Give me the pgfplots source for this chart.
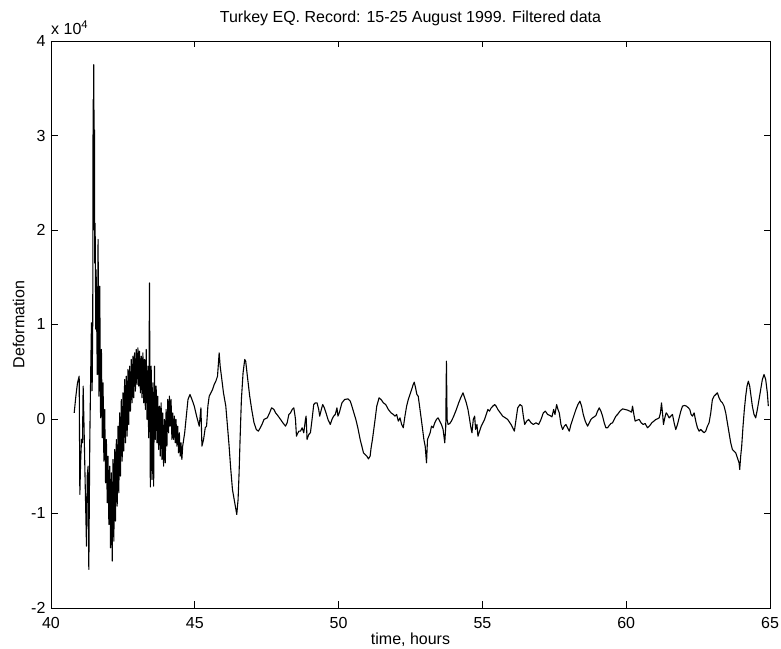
\documentclass[border=0pt]{standalone}
\usepackage{fontspec}
\setmainfont{Liberation Sans}
\usepackage{pgfplots}
\pgfplotsset{compat=1.18}

\begin{document}
\fontsize{16}{19}\selectfont
\begin{tikzpicture}
\begin{axis}[
  scale only axis, width=719pt, height=567pt,
  xmin=40, xmax=65, ymin=-2, ymax=4,
  xtick={40,45,...,65}, ytick={-2,-1,...,4},
  tick align=inside, major tick length=6.5pt,
  xtick pos=both, ytick pos=both, xticklabel pos=lower, yticklabel pos=left,
  /pgf/number format/assume math mode=true,
  tick label style={font=\fontsize{16}{19}\selectfont},
  xticklabel style={yshift=-3.5pt},
  axis line style={line width=0.7pt},
  every tick/.style={black, line width=0.7pt},
  title={Turkey EQ. Record: 15-25 August 1999. Filtered data},
  title style={at={(axis description cs:0.5,1)}, anchor=base, yshift=12.4pt},
  xlabel={time, hours},
  xlabel style={at={(axis description cs:0.5,0)}, anchor=base, yshift=-36.5pt},
  ylabel={Deformation},
  ylabel style={at={(axis description cs:-0.045,0.5)}, anchor=center},
  extra description/.code={\node[anchor=base west, inner sep=0pt] at (0,1) [yshift=6pt] {x 10\textsuperscript{4}};},
]
% deformation in units of 1e4
\addplot[black, line width=1.1pt, line join=round, mark=none] coordinates {
(40.807,0.065) (40.865,0.242) (40.92,0.38) (40.980,0.453) (41.003,-0.798) (41.03,-0.45)
(41.061,-0.217) (41.095,-0.252) (41.118,0.347) (41.15,-0.10) (41.176,-0.499) (41.234,-1.346)
(41.26,-0.60) (41.291,-0.499) (41.315,-1.592) (41.349,-0.217) (41.384,0.559) (41.407,1.018)
(41.430,0.30) (41.452,1.05) (41.464,3.38) (41.475,2.00) (41.487,3.75) (41.499,2.85)
(41.511,3.06) (41.522,1.65) (41.534,2.07) (41.557,0.95) (41.569,1.58)
(41.580,1.265) (41.609,0.471) (41.637,1.900) (41.666,0.242) (41.695,1.406) (41.724,0.012)
(41.753,0.736) (41.782,-0.199) (41.810,0.383) (41.839,-0.446) (41.868,0.101) (41.897,-0.675)
(41.926,-0.217) (41.955,-0.887) (41.983,-0.393) (42.012,-1.116) (42.041,-0.499) (42.070,-1.363)
(42.099,-0.570) (42.128,-1.504) (42.156,-0.428) (42.185,-1.293) (42.214,-0.323) (42.243,-1.081)
(42.272,-0.217) (42.301,-0.922) (42.329,-0.076) (42.358,-0.781) (42.387,0.065) (42.416,-0.605)
(42.445,0.206) (42.474,-0.446) (42.502,0.277) (42.531,-0.340) (42.560,0.418) (42.589,-0.252)
(42.618,0.453) (42.647,-0.182) (42.675,0.524) (42.704,-0.058) (42.733,0.559) (42.762,0.083)
(42.791,0.630) (42.820,0.171) (42.849,0.665) (42.877,0.224) (42.906,0.700) (42.935,0.295)
(42.964,0.736) (42.993,0.365) (43.022,0.753) (43.050,0.348) (43.079,0.718) (43.108,0.277)
(43.137,0.665) (43.166,0.224) (43.195,0.700) (43.223,0.171) (43.252,0.630) (43.281,0.101)
(43.310,0.736) (43.339,-0.005) (43.368,0.559) (43.396,-0.199) (43.425,1.44) (43.454,-0.72)
(43.483,0.559) (43.512,-0.640) (43.541,0.383) (43.569,-0.711) (43.598,0.559)
(43.627,-0.217) (43.656,0.348) (43.685,-0.252) (43.713,0.242) (43.742,-0.323) (43.771,0.136)
(43.800,-0.393) (43.829,0.171) (43.858,-0.428) (43.886,0.065) (43.915,-0.499) (43.944,-0.005)
(43.973,-0.464) (44.002,0.101) (44.031,-0.287) (44.060,0.206) (44.088,-0.146) (44.117,0.242)
(44.146,-0.076) (44.175,0.206) (44.204,-0.217) (44.233,0.065) (44.262,-0.217) (44.290,0.030)
(44.319,-0.252) (44.348,-0.005) (44.377,-0.287) (44.406,-0.076) (44.435,-0.358) (44.463,-0.146)
(44.492,-0.393) (44.521,-0.252) (44.550,-0.428) (44.579,-0.287)
(44.648,-0.146) (44.694,-0.005) (44.763,0.206) (44.832,0.259) (44.902,0.206) (44.982,0.136)
(45.063,0.030) (45.155,-0.076) (45.213,0.118) (45.248,-0.287) (45.305,-0.217) (45.363,-0.093)
(45.409,-0.076) (45.455,0.136) (45.501,0.242) (45.559,0.277) (45.617,0.312) (45.674,0.365)
(45.732,0.400) (45.790,0.453) (45.847,0.700) (45.882,0.559) (45.940,0.418) (45.997,0.277)
(46.078,0.136) (46.136,-0.076) (46.193,-0.287) (46.251,-0.534) (46.309,-0.746) (46.389,-0.887)
(46.459,-1.010) (46.505,-0.852) (46.540,-0.570) (46.574,-0.217) (46.620,0.206) (46.678,0.488)
(46.736,0.630) (46.770,0.612) (46.828,0.453) (46.909,0.242) (46.978,0.101) (47.059,-0.040)
(47.139,-0.111) (47.209,-0.129) (47.278,-0.093) (47.347,-0.050) (47.405,-0.005)
(47.520,0.012) (47.601,0.065) (47.670,0.118) (47.751,0.101) (47.809,0.065) (47.901,0.030)
(47.982,-0.005) (48.062,-0.040) (48.155,-0.076) (48.212,-0.040) (48.270,0.048) (48.328,0.065)
(48.385,0.101) (48.443,0.118) (48.478,0.048) (48.501,-0.005) (48.535,-0.182) (48.558,-0.164)
(48.616,-0.129) (48.674,-0.129) (48.731,-0.093) (48.789,-0.146) (48.847,-0.005) (48.870,0.030)
(48.904,-0.217) (48.962,-0.164) (49.020,-0.146) (49.077,-0.005) (49.135,0.153) (49.193,0.171)
(49.250,0.171) (49.308,0.101) (49.343,0.030) (49.400,0.101) (49.447,0.153) (49.504,0.118)
(49.562,0.065) (49.631,-0.005) (49.712,-0.058) (49.770,-0.005) (49.827,0.030) (49.885,0.048)
(49.943,0.118) (49.977,0.030) (50.023,0.065) (50.116,0.171) (50.208,0.206) (50.323,0.213)
(50.404,0.189) (50.462,0.136) (50.531,0.065) (50.600,-0.005) (50.669,-0.093) (50.750,-0.217)
(50.808,-0.287) (50.865,-0.358) (50.923,-0.376) (50.981,-0.393) (51.038,-0.422) (51.096,-0.393)
(51.130,-0.305) (51.177,-0.217) (51.223,-0.111) (51.269,-0.005) (51.327,0.136) (51.407,0.224)
(51.477,0.206) (51.557,0.171) (51.638,0.153) (51.730,0.101) (51.823,0.065) (51.903,0.048)
(51.961,0.030) (52.019,0.048) (52.076,-0.023) (52.134,0.012) (52.192,-0.058) (52.249,-0.093)
(52.307,0.030) (52.365,0.136) (52.422,0.206) (52.480,0.259) (52.538,0.312) (52.595,0.365)
(52.630,0.390) (52.676,0.330) (52.722,0.259) (52.768,0.242) (52.815,0.136) (52.861,0.030)
(52.907,-0.076) (52.965,-0.217) (53.010,-0.287) (53.057,-0.464) (53.091,-0.217) (53.137,-0.182)
(53.183,-0.146) (53.230,-0.076) (53.287,-0.093) (53.345,-0.040) (53.403,-0.005) (53.460,0.012)
(53.518,-0.023) (53.576,-0.058) (53.633,-0.111) (53.691,-0.252) (53.726,-0.076) (53.749,0.612)
(53.772,-0.005) (53.806,-0.058) (53.864,-0.048) (53.922,-0.023) (54.003,0.030) (54.095,0.101)
(54.176,0.171) (54.245,0.224) (54.326,0.277) (54.383,0.224) (54.441,0.171) (54.498,0.101)
(54.556,-0.005) (54.591,-0.076) (54.637,-0.146) (54.683,-0.005) (54.730,0.030) (54.764,-0.111)
(54.810,-0.058) (54.845,-0.182) (54.902,-0.129) (54.960,-0.076) (55.017,-0.040) (55.075,-0.005)
(55.133,0.048) (55.191,0.101) (55.248,0.083) (55.306,0.118) (55.364,0.136) (55.421,0.153)
(55.479,0.136) (55.537,0.101)
(55.706,0.030) (55.798,0.012) (55.879,-0.005) (55.995,-0.058) (56.053,-0.093) (56.111,-0.129)
(56.169,-0.005) (56.227,0.118) (56.308,0.153) (56.377,0.136) (56.423,0.030) (56.470,-0.058)
(56.539,-0.023) (56.609,-0.005) (56.690,-0.040) (56.771,-0.058) (56.863,-0.040) (56.956,-0.058)
(57.037,-0.005) (57.118,0.065) (57.187,0.083) (57.268,0.048) (57.349,0.037) (57.419,0.023)
(57.477,0.101) (57.523,0.048) (57.581,0.153) (57.627,0.101) (57.673,0.065) (57.731,-0.058)
(57.789,-0.111) (57.847,-0.076) (57.905,-0.058) (57.963,-0.093) (58.021,-0.129) (58.078,-0.058)
(58.136,-0.005) (58.194,0.048) (58.252,0.101) (58.321,0.153) (58.391,0.189) (58.449,0.136)
(58.507,0.048) (58.576,-0.023) (58.657,-0.076) (58.715,-0.040) (58.773,-0.005) (58.831,0.012)
(58.889,0.023) (58.947,0.037) (59.004,0.083) (59.062,0.118) (59.120,0.083) (59.178,0.030)
(59.236,-0.040) (59.294,-0.093) (59.352,-0.093) (59.409,-0.069) (59.467,-0.048) (59.525,-0.040)
(59.583,-0.005) (59.641,0.030) (59.699,0.048) (59.780,0.083) (59.872,0.107) (59.954,0.101)
(60.046,0.094) (60.127,0.083) (60.185,0.072) (60.220,0.136) (60.266,0.048) (60.312,-0.023)
(60.382,-0.012) (60.451,-0.005) (60.521,-0.040) (60.590,-0.058) (60.659,-0.048) (60.740,-0.093)
(60.822,-0.069) (60.891,-0.040) (60.960,-0.023) (61.030,-0.005) (61.088,0.002) (61.146,0.012)
(61.192,0.065) (61.227,0.171) (61.262,0.065) (61.296,-0.058) (61.342,0.012) (61.389,0.065)
(61.435,0.048) (61.493,0.012) (61.551,0.030) (61.609,0.048) (61.666,-0.040) (61.724,-0.111)
(61.782,-0.058) (61.840,0.012) (61.898,0.083) (61.956,0.136) (62.025,0.143) (62.095,0.136)
(62.164,0.118) (62.210,0.101) (62.257,0.048) (62.303,0.030) (62.361,0.065) (62.419,-0.023)
(62.477,-0.093) (62.535,-0.129) (62.592,-0.111) (62.650,-0.129) (62.708,-0.146) (62.766,-0.129)
(62.824,-0.076) (62.882,-0.040) (62.940,0.065) (62.997,0.206) (63.055,0.242) (63.113,0.259)
(63.171,0.277) (63.229,0.224) (63.287,0.189) (63.345,0.171) (63.403,0.136) (63.461,0.065)
(63.518,-0.040) (63.576,-0.146) (63.634,-0.252) (63.692,-0.323) (63.750,-0.340) (63.808,-0.358)
(63.866,-0.411) (63.924,-0.464) (63.947,-0.534) (63.981,-0.393) (64.016,-0.287) (64.062,-0.076)
(64.108,0.101) (64.155,0.242) (64.201,0.348) (64.247,0.400) (64.294,0.348) (64.340,0.242)
(64.386,0.136) (64.444,0.048) (64.502,0.012) (64.560,0.101) (64.618,0.206) (64.676,0.312)
(64.734,0.418) (64.792,0.471) (64.850,0.418) (64.907,0.277) (64.942,0.136)
};
\end{axis}
\pgfresetboundingbox
\path ([shift={(-51pt,-41pt)}]current axis.south west) rectangle ([shift={(11pt,41pt)}]current axis.north east);
\end{tikzpicture}
\end{document}
